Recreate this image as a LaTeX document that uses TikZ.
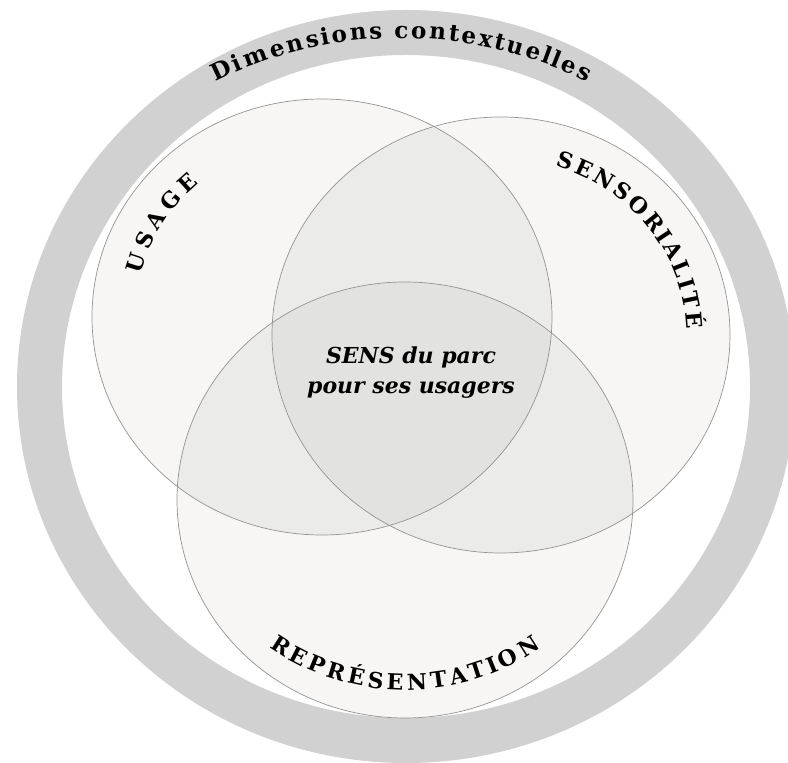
\documentclass[tikz,border=0pt]{standalone}
\usepackage{fontspec}
\setmainfont{DejaVu Serif}
\usetikzlibrary{decorations.text}

\definecolor{ringgray}{HTML}{D1D1D1}
\definecolor{singlefill}{HTML}{F7F6F4}
\definecolor{pairfill}{HTML}{EBEBE9}
\definecolor{triplefill}{HTML}{E2E2E0}
\definecolor{linegray}{HTML}{949494}

\newcommand\ringfont{\fontsize{23}{23}\selectfont\bfseries}
\newcommand\setfont{\fontsize{22}{22}\selectfont\bfseries}

\begin{document}
\begin{tikzpicture}[
    x=1pt, y=1pt,
    outline/.style={
        draw=linegray,
        line width=0.7pt
    },
    arclabel/.style 2 args={
        font=#2,
        decorate,
        decoration={
            text effects along path,
            text={#1},
            text effects/.cd,
                text along path,
                fit text to path,
                characters={font=#2}
        }
    },
    core/.style={
        font=\fontsize{22}{30}\selectfont\bfseries\itshape,
        align=center
    }
]

\useasboundingbox (0,0) rectangle (788,763);
\clip (0,0) rectangle (788,763);
\fill[white] (0,0) rectangle (788,763);

\coordinate (ring) at (406,376.5);
\coordinate (usage) at (322,446);
\coordinate (sens) at (501,428);
\coordinate (repr) at (405,263);

\fill[ringgray, even odd rule] (ring) ellipse [x radius=389, y radius=376.5]
    (ring) ellipse [x radius=344, y radius=331.5];

\fill[singlefill] (usage) ellipse [x radius=230, y radius=218];
\fill[singlefill] (sens) ellipse [x radius=229, y radius=218];
\fill[singlefill] (repr) ellipse [x radius=228, y radius=218];

\begin{scope}
    \clip (usage) ellipse [x radius=230, y radius=218];
    \fill[pairfill] (sens) ellipse [x radius=229, y radius=218];
    \fill[pairfill] (repr) ellipse [x radius=228, y radius=218];
\end{scope}
\begin{scope}
    \clip (sens) ellipse [x radius=229, y radius=218];
    \fill[pairfill] (repr) ellipse [x radius=228, y radius=218];
\end{scope}
\begin{scope}
    \clip (usage) ellipse [x radius=230, y radius=218];
    \clip (sens) ellipse [x radius=229, y radius=218];
    \fill[triplefill] (repr) ellipse [x radius=228, y radius=218];
\end{scope}

\draw[outline] (usage) ellipse [x radius=230, y radius=218];
\draw[outline] (sens) ellipse [x radius=229, y radius=218];
\draw[outline] (repr) ellipse [x radius=228, y radius=218];

\coordinate (ringtext) at (401,335);
\coordinate (reprtext) at (405,293);

\path[arclabel={Dimensions contextuelles}{\ringfont}]
    ([shift={(117.4:404 and 390)}]ringtext) arc [start angle=117.4, end angle=62.6, x radius=404, y radius=390];
\path[arclabel={USAGE}{\setfont}]
    ([shift={(166:187 and 177)}]usage) arc [start angle=166, end angle=131, x radius=187, y radius=177];
\path[arclabel={SENSORIALITÉ}{\setfont}]
    ([shift={(73:185.5 and 176.6)}]sens) arc [start angle=73, end angle=2, x radius=185.5, y radius=176.6];
\path[arclabel={REPRÉSENTATION}{\setfont}]
    ([shift={(233.8:230 and 220)}]reprtext) arc [start angle=233.8, end angle=306.2, x radius=230, y radius=220];

\node[core] (meaning) at (411,390) {SENS du parc\\pour ses usagers};

\end{tikzpicture}
\end{document}
